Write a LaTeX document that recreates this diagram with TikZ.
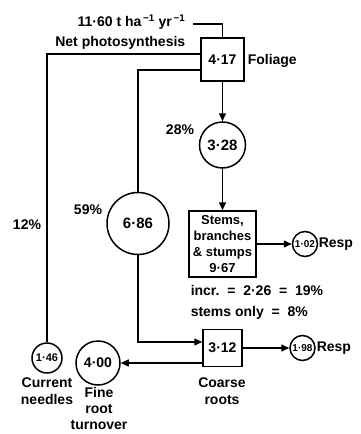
\documentclass[tikz,border=0pt]{standalone}
\usepackage{fontspec}
\setmainfont{Liberation Sans}
\usetikzlibrary{arrows.meta}
\begin{document}
\begin{tikzpicture}[x=1pt,y=-1pt,line width=1.5pt,
  fa/.style={font=\bfseries\fontsize{10}{12}\selectfont},
  fb/.style={font=\bfseries\fontsize{11}{13}\selectfont},
  fc/.style={font=\bfseries\fontsize{13}{16}\selectfont},
  fd/.style={font=\bfseries\fontsize{14}{17}\selectfont},
  ff/.style={font=\bfseries\fontsize{14}{16}\selectfont},
  fe/.style={font=\bfseries\fontsize{15}{18}\selectfont},
  box/.style={draw,rectangle,inner sep=0pt},
  pool/.style={draw,circle,inner sep=0pt},
  lbl/.style={inner sep=0pt,fd},
  arr/.style={-{Triangle[length=8pt,width=7pt]}},
]
\useasboundingbox (0,0) rectangle (361,434);
% nodes
\node[box,minimum width=43pt,minimum height=43pt,fd] (foliage) at (222.5,59.5) {4·17};
\node[lbl,anchor=west] (folname) at (247,61) {Foliage};
\node[lbl,anchor=east] (input) at (186,22) {11·60 t ha\textsuperscript{\,−1} yr\textsuperscript{\,−1}};
\node[lbl,anchor=east] (netps) at (186,43) {Net photosynthesis};
\coordinate (inend) at (193,24);
\node[pool,minimum size=46pt,fe] (c328) at (222.5,145) {3·28};
\node[lbl] (p28) at (180,130) {28\%};
\node[box,minimum width=67pt,minimum height=66pt,align=center,fc] (stems) at (222.5,244) {Stems,\\branches\\\& stumps\\9·67};
\node[pool,minimum size=25pt,fa] (c102) at (305,244) {1·02};
\node[lbl,anchor=west] (resp1) at (318,244) {Resp};
\node[lbl,anchor=west] (incr) at (190,290) {incr.\ \ =\ \ 2·26\ \ =\ \ 19\%};
\node[lbl,anchor=west] (stemsonly) at (190,313) {stems only\ \ =\ \ 8\%};
\node[pool,minimum size=62pt,fe] (c686) at (138,223.5) {6·86};
\node[lbl] (p59) at (88,210) {59\%};
\node[lbl] (p12) at (27,225) {12\%};
\node[pool,minimum size=30pt,fb] (c146) at (47,358) {1·46};
\node[lbl,align=center] (curneedles) at (47,391) {Current\\needles};
\node[pool,minimum size=44pt,fd] (c400) at (98,363) {4·00};
\node[lbl,align=center,ff] (fine) at (99,408) {Fine\\root\\turnover};
\node[box,minimum width=39pt,minimum height=37pt,fd] (coarse) at (222.5,348) {3·12};
\node[lbl,align=center] (coarsename) at (222,391) {Coarse\\roots};
\node[pool,minimum size=25pt,fa] (c198) at (302.5,348) {1·98};
\node[lbl,anchor=west] (resp2) at (316,348) {Resp};
% connectors
\draw (inend) -| (foliage.north);
\draw ([yshift=5.5pt]foliage.west) -| (c146.north);
\draw ([yshift=-10.5pt]foliage.west) -| (c686.north);
\draw[arr] (c686.south) |- ([yshift=6pt]coarse.west);
\draw[arr] ([yshift=-15pt]coarse.west) -- (c400.east);
\draw[arr] (foliage.south) -- (c328.north);
\draw[arr] (c328.south) -- (stems.north);
\draw[arr] (stems.east) -- (c102.west);
\draw[arr] (coarse.east) -- (c198.west);
\end{tikzpicture}
\end{document}
